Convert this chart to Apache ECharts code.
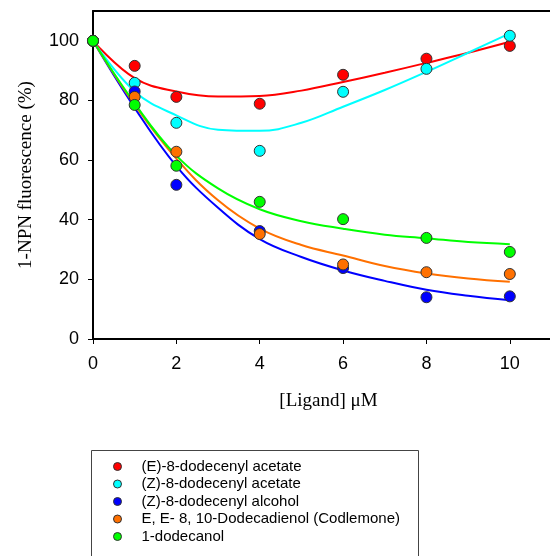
<!DOCTYPE html>
<html>
<head>
<meta charset="utf-8">
<script src="https://cdn.jsdelivr.net/npm/echarts@6/dist/echarts.min.js"></script>
<style>
  html, body { margin: 0; padding: 0; background: #fff; }
  #chart { width: 550px; height: 556px; }
</style>
</head>
<body>
<div id="chart"></div>
<script>
// ligand concentration (uM) of the measured points
var ligandX = [0, 1, 2, 4, 6, 8, 10];
// x positions of the fitted curve readings
var curveX = [0, 1, 2, 3, 4, 5, 6, 7, 8, 9, 10];

var names = [
  "(E)-8-dodecenyl acetate",
  "(Z)-8-dodecenyl acetate",
  "(Z)-8-dodecenyl alcohol",
  "E, E- 8, 10-Dodecadienol (Codlemone)",
  "1-dodecanol"
];
var colors = ["#ff0000", "#00ffff", "#0000ff", "#ff7000", "#00ff00"];

// measured fluorescence (%)
var eAcetate = [100, 91.6, 81.2, 78.9, 88.6, 94, 98.3];
var zAcetate = [100, 85.9, 72.5, 63.1, 82.9, 90.6, 101.7];
var zAlcohol = [100, 83, 51.7, 36.2, 23.8, 14, 14.3];
var codlemone = [100, 81.2, 62.8, 35.2, 25, 22.4, 21.8];
var dodecanol = [100, 78.5, 58.1, 46, 40.2, 33.9, 29.2];

// fitted curves
var eAcetateFit = [100, 87.5, 83, 81.3, 81.5, 83.3, 86.2, 89.3, 92.6, 96, 99.7];
var zAcetateFit = [100, 83, 75, 70.2, 69.8, 72.5, 77.9, 83.5, 89.6, 96, 102.5];
var zAlcoholFit = [100, 77.5, 58, 44, 33.5, 27.5, 23, 19.5, 16.5, 14.5, 13];
var codlemoneFit = [100, 78.5, 60.5, 46.5, 37, 31.5, 28, 24.5, 22, 20.3, 19.2];
var dodecanolFit = [100, 79, 61.5, 50.5, 43.5, 39.5, 37, 35, 33.8, 32.5, 31.8];

var yTicks = [0, 20, 40, 60, 80, 100];
var xTicks = [0, 2, 4, 6, 8, 10];

var points = [eAcetate, zAcetate, zAlcohol, codlemone, dodecanol];
var fits = [eAcetateFit, zAcetateFit, zAlcoholFit, codlemoneFit, dodecanolFit];

function pairs(xs, ys) {
  return xs.map(function (x, i) { return [x, ys[i]]; });
}

var series = [];
// curves first so the dots sit on top
fits.forEach(function (f, i) {
  series.push({
    name: names[i] + " fit",
    type: "line",
    smooth: 0.4,
    showSymbol: false,
    silent: true,
    z: 2,
    lineStyle: { color: colors[i], width: 2 },
    data: pairs(curveX, f)
  });
});
points.forEach(function (p, i) {
  series.push({
    name: names[i],
    type: "scatter",
    symbol: "circle",
    symbolSize: 11,
    z: 3,
    itemStyle: { color: colors[i], opacity: 1, borderColor: "#333", borderWidth: 1 },
    data: pairs(ligandX, p)
  });
});

var chart = echarts.init(document.getElementById("chart"));
chart.setOption({
  animation: false,
  backgroundColor: "#fff",
  grid: {
    left: 93,
    top: 11,
    width: 471,   // right edge runs off the picture, as in the original
    bottom: 217,
    outerBoundsMode: "none"
  },
  xAxis: [{
    type: "value",
    min: 0,
    max: 11.3,
    name: "[Ligand] \u03bcM",
    nameLocation: "middle",
    nameGap: 53,
    nameTextStyle: {
      fontFamily: "Liberation Serif",
      fontSize: 19,
      color: "#000"
    },
    axisLine: { lineStyle: { color: "#000", width: 2 } },
    axisTick: { length: 5, customValues: xTicks, lineStyle: { color: "#000" } },
    axisLabel: {
      customValues: xTicks,
      fontFamily: "Liberation Sans",
      fontSize: 18,
      color: "#000",
      margin: 16
    },
    splitLine: { show: false }
  }, {
    // top frame line only
    type: "value",
    position: "top",
    min: 0,
    max: 11.3,
    axisLine: { show: true, lineStyle: { color: "#000", width: 2 } },
    axisTick: { show: false },
    axisLabel: { show: false },
    splitLine: { show: false }
  }],
  yAxis: {
    type: "value",
    min: 0,
    max: 110,
    name: "1-NPN fluorescence (%)",
    nameLocation: "middle",
    nameGap: 57,
    nameTextStyle: {
      fontFamily: "Liberation Serif",
      fontSize: 19,
      color: "#000"
    },
    axisLine: { lineStyle: { color: "#000", width: 2 } },
    axisTick: { length: 5, customValues: yTicks, lineStyle: { color: "#000" } },
    axisLabel: {
      customValues: yTicks,
      fontFamily: "Liberation Sans",
      fontSize: 18,
      color: "#000",
      margin: 14
    },
    splitLine: { show: false }
  },
  // legend frame, its bottom is cut off by the picture edge
  graphic: [{
    type: "rect",
    silent: true,
    shape: { x: 91.5, y: 450.5, width: 327, height: 130 },
    style: { fill: "none", stroke: "#444", lineWidth: 1 }
  }],
  legend: {
    data: names,
    orient: "vertical",
    left: 91,
    top: 452,
    padding: [7, 10, 0, 22],
    itemGap: 2.5,
    itemWidth: 8,
    itemHeight: 8,
    icon: "circle",
    itemStyle: { borderColor: "#333", borderWidth: 1 },
    textStyle: {
      fontFamily: "Liberation Sans",
      fontSize: 15,
      lineHeight: 15,
      color: "#000",
      padding: [0, 0, 0, 15]
    }
  },
  series: series
});
</script>
</body>
</html>
